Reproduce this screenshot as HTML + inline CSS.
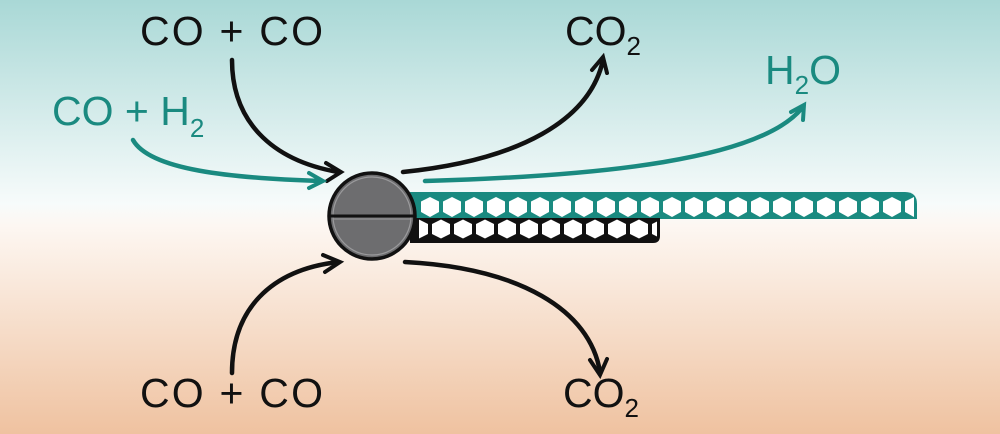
<!DOCTYPE html>
<html><head><meta charset="utf-8"><style>
html,body{margin:0;padding:0;width:1000px;height:434px;overflow:hidden}
svg{display:block}
text{font-family:"Liberation Sans",Arial,sans-serif;font-size:41px}
</style></head><body>
<svg width="1000" height="434" viewBox="0 0 1000 434" xmlns="http://www.w3.org/2000/svg">
<defs>
<linearGradient id="bg" x1="0" y1="0" x2="0" y2="1">
<stop offset="0" stop-color="#a9d8d6"/>
<stop offset="0.47" stop-color="#f7fbfb"/>
<stop offset="0.52" stop-color="#fdf7f2"/>
<stop offset="1" stop-color="#efc2a0"/>
</linearGradient>
<pattern id="hexT" x="419" y="192" width="22" height="27" patternUnits="userSpaceOnUse">
<polygon points="11,5 20,9.5 20,20 11,25 2,20 2,9.5" fill="#fff"/>
</pattern>
<pattern id="hexB" x="408" y="218" width="22" height="25" patternUnits="userSpaceOnUse">
<polygon points="11,1.5 20,6 20,16 11,20.5 2,16 2,6" fill="#fff"/>
</pattern>
</defs>
<rect width="1000" height="434" fill="url(#bg)"/>
<g fill="none" stroke-linecap="round" stroke-width="4.5">
<path d="M232,60 C232,120 270,160 338,172" stroke="#111"/>
<path d="M326,163 L341,172 L327,181" stroke="#111" stroke-width="4"/>
<path d="M133,140 C150,170 230,178 320,181" stroke="#1a8a80"/>
<path d="M309,173 L323,181 L309,188" stroke="#1a8a80" stroke-width="4"/>
<path d="M403,172 C520,160 590,120 603,60" stroke="#111"/>
<path d="M592,70 L603,57 L607,73" stroke="#111" stroke-width="4"/>
<path d="M425,181 C600,176 760,160 802,108" stroke="#1a8a80"/>
<path d="M791,112 L804,105 L803,120" stroke="#1a8a80" stroke-width="4"/>
<path d="M232,373 C232,310 270,270 338,262" stroke="#111"/>
<path d="M323,255 L340,262 L325,272" stroke="#111" stroke-width="4"/>
<path d="M405,262 C520,268 590,310 600,372" stroke="#111"/>
<path d="M590,360 L600,375 L607,359" stroke="#111" stroke-width="4"/>
</g>
<path d="M410,192 L905,192 Q917,192 917,204 L917,219 L410,219 Z" fill="#1a8a80"/>
<rect x="419" y="192" width="495" height="27" fill="url(#hexT)"/>
<path d="M410,218 L660,218 L660,236 Q660,243 653,243 L410,243 Z" fill="#111"/>
<rect x="419" y="218" width="238" height="22" fill="url(#hexB)"/>
<circle cx="372" cy="216" r="43" fill="#6d6d6f" stroke="#111" stroke-width="3.5"/>
<circle cx="372" cy="216" r="39" fill="none" stroke="#9a9a9c" stroke-width="1.2"/>
<line x1="329" y1="216" x2="415" y2="216" stroke="#111" stroke-width="3"/>
<line x1="333" y1="219" x2="411" y2="219" stroke="#9a9a9c" stroke-width="1"/>
<text x="140" y="45" fill="#111" textLength="183">CO + CO</text>
<text x="52" y="125" fill="#1a8a80">CO + H<tspan font-size="26" dy="12">2</tspan></text>
<text x="565" y="45" fill="#111">CO<tspan font-size="26" dy="10">2</tspan></text>
<text x="765" y="84" fill="#1a8a80">H<tspan font-size="26" dy="10">2</tspan><tspan dy="-10">O</tspan></text>
<text x="140" y="407" fill="#111" textLength="183">CO + CO</text>
<text x="563" y="407" fill="#111">CO<tspan font-size="26" dy="10">2</tspan></text>
</svg>
</body></html>
